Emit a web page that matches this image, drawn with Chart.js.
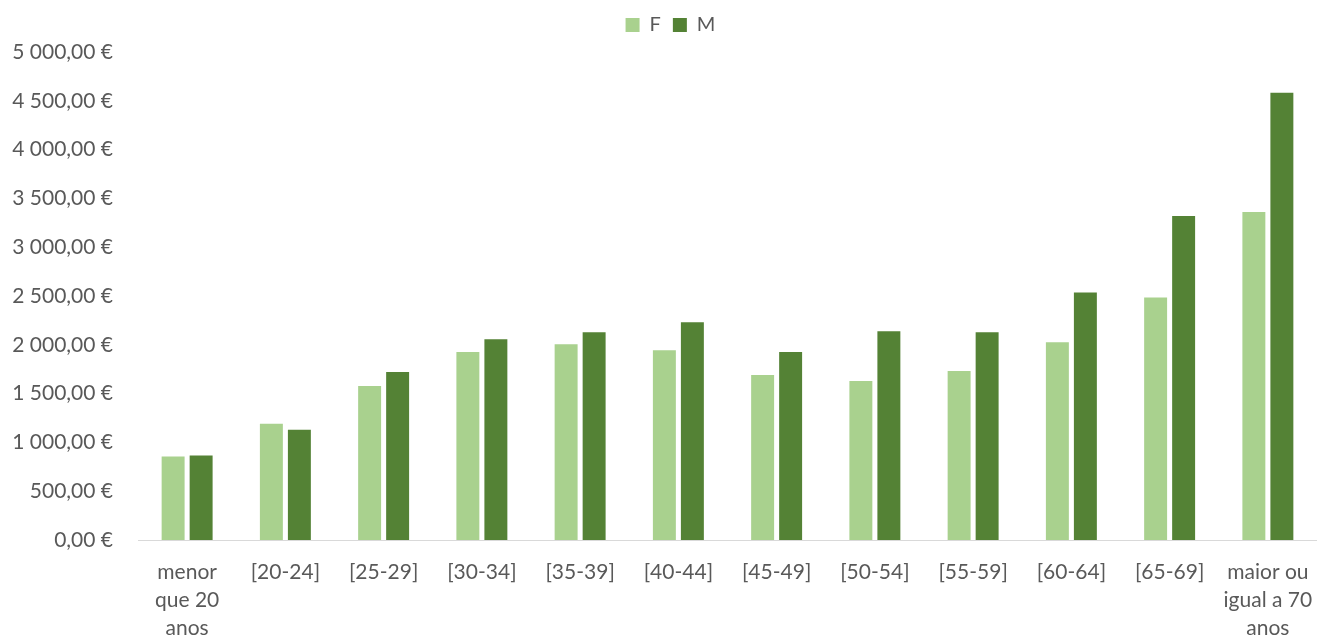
<!DOCTYPE html>
<html>
<head>
<meta charset="utf-8">
<script src="https://cdn.jsdelivr.net/npm/chart.js@4"></script>
<style>
  html, body { margin: 0; padding: 0; background: #fff; }
  #wrap { width: 1317px; height: 637px; }
</style>
</head>
<body>
<div id="wrap"><canvas id="chart"></canvas></div>
<script>
const categories = [
  ['menor', 'que 20', 'anos'], '[20-24]', '[25-29]', '[30-34]', '[35-39]', '[40-44]',
  '[45-49]', '[50-54]', '[55-59]', '[60-64]', '[65-69]', ['maior ou', 'igual a 70', 'anos']
];
const valuesF = [855, 1191, 1578, 1925, 2006, 1945, 1690, 1629, 1731, 2026, 2485, 3360];
const valuesM = [865, 1130, 1721, 2057, 2128, 2230, 1925, 2139, 2128, 2536, 3320, 4582];
const yTicks = [0, 500, 1000, 1500, 2000, 2500, 3000, 3500, 4000, 4500, 5000];

const fmtEuro = (v) => {
  const [int, dec] = Number(v).toFixed(2).split('.');
  return int.replace(/\B(?=(\d{3})+(?!\d))/g, ' ') + ',' + dec + ' €';
};

const font = { family: 'Lato, Open Sans, sans-serif', size: 21, lineHeight: 1.33 };

// extra room between legend and plot, and nudge the legend a little
const legendTweak = {
  id: 'legendTweak',
  beforeInit(chart) {
    const legend = chart.legend;
    const fit = legend.fit;
    legend.fit = function () {
      fit.call(this);
      this.height += 10;
    };
    const draw = legend.draw;
    legend.draw = function () {
      const ctx = this.ctx;
      ctx.save();
      ctx.translate(12, 3);
      draw.call(this);
      ctx.restore();
    };
  },
};

new Chart(document.getElementById('chart'), {
  type: 'bar',
  data: {
    labels: categories,
    datasets: [
      { label: 'F', data: valuesF, backgroundColor: '#A9D18E', categoryPercentage: 0.57, barPercentage: 0.82 },
      { label: 'M', data: valuesM, backgroundColor: '#548235', categoryPercentage: 0.57, barPercentage: 0.82 },
    ],
  },
  plugins: [legendTweak],
  options: {
    responsive: true,
    maintainAspectRatio: false,
    animation: false,
    plugins: {
      legend: {
        position: 'top',
        labels: { font: { family: font.family, size: 20 }, color: '#595959', boxWidth: 14, boxHeight: 14, padding: 12 },
      },
      tooltip: { enabled: false },
    },
    scales: {
      x: {
        grid: { display: false },
        border: { color: '#D9D9D9', width: 1 },
        ticks: { font: font, color: '#595959', maxRotation: 0, autoSkip: false, padding: 10 },
        afterFit: (scale) => {
          scale.height = 97;
          scale.paddingLeft = 0;
          scale.paddingRight = 0;
        },
      },
      y: {
        min: 0,
        max: 5000,
        grid: { display: false },
        border: { display: false },
        afterBuildTicks: (scale) => { scale.ticks = yTicks.map(v => ({ value: v })); },
        ticks: { font: font, color: '#595959', padding: 17, callback: (v) => fmtEuro(v) },
        afterFit: (scale) => { scale.width = 138; },
      },
    },
  },
});
</script>
</body>
</html>
